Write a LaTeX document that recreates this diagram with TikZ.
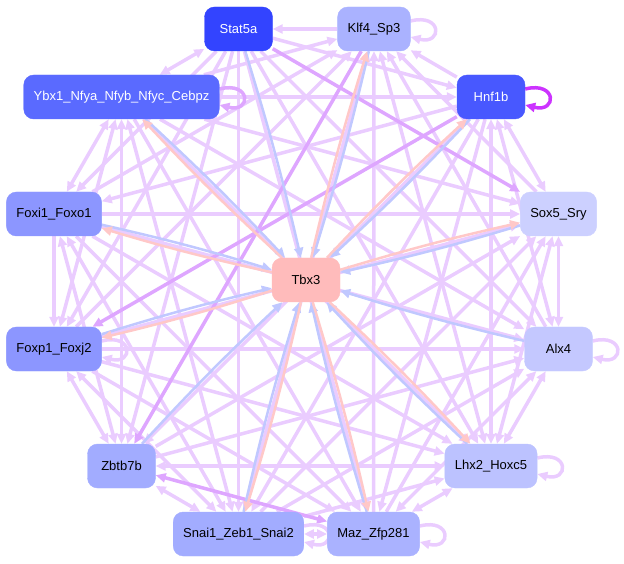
\documentclass[tikz,border=0pt]{standalone}
\usepackage{fontspec}
\setmainfont{Liberation Sans}
\usetikzlibrary{arrows.meta,backgrounds}
\definecolor{lila}{RGB}{234,204,255}
\definecolor{lilafonce}{RGB}{222,166,255}
\definecolor{mauve}{RGB}{204,51,255}
\definecolor{bleut}{RGB}{192,200,255}
\definecolor{roset}{RGB}{255,200,200}
\definecolor{saumon}{RGB}{255,187,187}

\begin{document}
\begin{tikzpicture}[x=1pt, y=1pt, >={Triangle[length=10pt,width=9pt]},
    noeud/.style={rounded corners=10pt, minimum width=68pt, minimum height=44pt,
      inner xsep=10pt, font=\fontsize{13}{15}\selectfont},
    arete/.style={lila, line width=3.5pt},
    fonce/.style={lilafonce, line width=3.5pt},
    bleu/.style={bleut, line width=2.5pt, ->},
    rose/.style={roset, line width=2.5pt, ->}]

		\useasboundingbox (0,0) rectangle (624,563);

		\xdefinecolor{bleuA}{RGB}{51,68,255}
		\xdefinecolor{bleuB}{RGB}{72,88,255}
		\xdefinecolor{bleuC}{RGB}{90,106,255}
		\xdefinecolor{bleuD}{RGB}{140,150,255}
		\xdefinecolor{bleuE}{RGB}{162,172,255}
		\xdefinecolor{bleuF}{RGB}{170,178,255}
		\xdefinecolor{bleuG}{RGB}{188,194,255}
		\xdefinecolor{bleuH}{RGB}{196,200,255}
		\xdefinecolor{bleuI}{RGB}{204,208,255}

		\newcommand{\mkgene}[6]{
			\node[noeud, fill=#4, draw=#4, text=#5] (#1) at (#2,#3) {#6};
		}

		\newcommand{\mkboucle}[2]{
			\draw[#1, ->] ([yshift=8pt]#2.east) .. controls +(32,8) and +(32,-8) .. ([yshift=-8pt]#2.east);
		}

		%les noeuds
		\mkgene{S}{238.5}{534}{bleuA}{white}{Stat5a}
		\mkgene{K}{374}{534}{bleuF}{black}{Klf4\_Sp3}
		\mkgene{H}{491}{466}{bleuB}{white}{Hnf1b}
		\mkgene{X}{558.5}{349}{bleuI}{black}{Sox5\_Sry}
		\mkgene{A}{558.5}{214}{bleuH}{black}{Alx4}
		\mkgene{L}{491}{97}{bleuG}{black}{Lhx2\_Hoxc5}
		\mkgene{M}{373.5}{29}{bleuF}{black}{Maz\_Zfp281}
		\mkgene{N}{238.5}{29}{bleuE}{black}{Snai1\_Zeb1\_Snai2}
		\mkgene{Z}{121.5}{97}{bleuE}{black}{Zbtb7b}
		\mkgene{P}{54}{214}{bleuD}{black}{Foxp1\_Foxj2}
		\mkgene{F}{54}{349}{bleuD}{black}{Foxi1\_Foxo1}
		\mkgene{Y}{121.5}{466}{bleuC}{white}{Ybx1\_Nfya\_Nfyb\_Nfyc\_Cebpz}
		\mkgene{T}{306}{283}{saumon}{black}{Tbx3}

		\begin{pgfonlayer}{background}
		%les arêtes
		\draw[arete] (S) edge[<-] (K) edge[->] (H) edge[->] (A) edge[->] (L) edge[->] (M) edge[->] (N) edge[->] (Z) edge[->] (P) edge[->] (F) edge[<->] (Y);
		\draw[arete] (K) edge[<-] (H) edge[<-] (X) edge[<-] (A) edge[<->] (L) edge[<-] (M) edge[<->] (N) edge[<-] (P) edge[<-] (F) edge[<-] (Y);
		\draw[arete] (H) edge[<->] (X) edge[<->] (A) edge[<->] (L) edge[->] (M) edge[->] (N) edge[->] (Z) edge[->] (F) edge[<-] (Y);
		\draw[arete] (X) edge[<->] (A) edge[<->] (L) edge[<-] (M) edge[<-] (N) edge[<-] (Z) edge[<-] (P) edge[<-] (F) edge[<-] (Y);
		\draw[arete] (A) edge[<->] (L) edge[<->] (M) edge[<-] (N) edge[<-] (Z) edge[<-] (P) edge[<-] (F) edge[<-] (Y);
		\draw[arete] (L) edge[<->] (M) edge[<-] (N) edge[<->] (Z) edge[<-] (P) edge[<-] (F) edge[<-] (Y);
		\draw[arete] (M) edge[<->] (N) edge[<-] (P) edge[<-] (F) edge[<-] (Y);
		\draw[arete] (N) edge[<->] (Z) edge[<->] (P) edge[<->] (F) edge[<->] (Y);
		\draw[arete] (Z) edge[<->] (P) edge[<->] (F) edge[<->] (Y);
		\draw[arete] (P) edge[<-] (F) edge[<->] (Y);
		\draw[arete] (F) edge[<->] (Y);

		\draw[fonce] (S) edge[->] (X);
		\draw[fonce] (K) edge[->] (Z);
		\draw[fonce] (H) edge[->] (P);
		\draw[fonce] (Z) edge[<->] (M);

		%les boucles
		\mkboucle{arete}{K}
		\mkboucle{arete}{A}
		\mkboucle{arete}{L}
		\mkboucle{arete}{M}
		\mkboucle{arete}{N}
		\mkboucle{arete}{P}
		\mkboucle{fonce}{Y}
		\mkboucle{mauve, line width=3.5pt}{H}

		%vers et depuis Tbx3
		\draw[bleu] (S) edge[bend left=2] (T) (K) edge[bend left=2] (T) (H) edge[bend left=2] (T) (X) edge[bend left=2] (T)
			(A) edge[bend left=2] (T) (L) edge[bend left=2] (T) (M) edge[bend left=2] (T) (N) edge[bend left=2] (T)
			(Z) edge[bend left=2] (T) (P) edge[bend left=2] (T) (F) edge[bend left=2] (T) (Y) edge[bend left=2] (T);
		\draw[rose] (T) edge[bend left=2] (K) edge[bend left=2] (H) edge[bend left=2] (X) edge[bend left=2] (L)
			edge[bend left=2] (M) edge[bend left=2] (N) edge[bend left=2] (P) edge[bend left=2] (F) edge[bend left=2] (Y);
		\end{pgfonlayer}

\end{tikzpicture}
\end{document}
